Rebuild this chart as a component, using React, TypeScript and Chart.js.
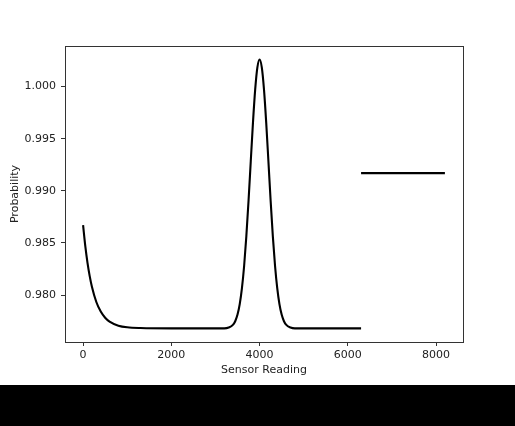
import React, { useEffect, useRef } from "react";
import { Chart, registerables } from "chart.js";

Chart.register(...registerables);

// Main probability curve (Sensor Reading vs Probability)
const curveX = [
  0, 50, 100, 150, 200, 300, 400, 500, 600, 800, 1000, 1300, 2000, 3200, 3300, 3400,
  3450, 3500, 3550, 3600, 3650, 3700, 3750, 3800, 3850, 3900, 3950, 4000, 4050, 4100,
  4150, 4200, 4250, 4300, 4350, 4400, 4450, 4500, 4550, 4600, 4700, 4800, 6300,
];
const curveY = [
  0.9867, 0.98469, 0.98309, 0.98181, 0.98079, 0.97933, 0.97841, 0.97782, 0.97745, 0.97706,
  0.9769, 0.97683, 0.9768, 0.9768, 0.97688, 0.97716, 0.97751, 0.97812, 0.97912, 0.98065,
  0.98281, 0.98565, 0.98907, 0.99284, 0.99655, 0.99971, 1.00185, 1.00261, 1.00185, 0.99971,
  0.99655, 0.99284, 0.98907, 0.98565, 0.98281, 0.98065, 0.97912, 0.97812, 0.97751, 0.97716,
  0.97688, 0.9768, 0.9768,
];

// Separate horizontal segment
const levelX = [6300, 8200];
const levelY = [0.9917, 0.9917];

const xTicks = [0, 2000, 4000, 6000, 8000];
const yTicks = [0.98, 0.985, 0.99, 0.995, 1.0];

const FONT = "'DejaVu Sans', sans-serif";

export default function App() {
  const ref = useRef<HTMLCanvasElement | null>(null);

  useEffect(() => {
    const canvas = ref.current;
    if (!canvas) return;
    const frame = {
      id: "frame",
      afterDatasetsDraw(chart: any) {
        const { ctx, chartArea } = chart;
        ctx.save();
        ctx.strokeStyle = "#333";
        ctx.lineWidth = 1;
        ctx.strokeRect(
          Math.round(chartArea.left) + 0.5,
          Math.round(chartArea.top) + 0.5,
          Math.round(chartArea.right - chartArea.left),
          Math.round(chartArea.bottom - chartArea.top)
        );
        ctx.restore();
      },
    };
    const chart = new Chart(canvas, {
      type: "line",
      data: {
        datasets: [
          {
            data: curveX.map((x, i) => ({ x, y: curveY[i] })),
            borderColor: "#000",
            borderWidth: 2.1,
            pointRadius: 0,
            cubicInterpolationMode: "monotone",
            fill: false,
          },
          {
            data: levelX.map((x, i) => ({ x, y: levelY[i] })),
            borderColor: "#000",
            borderWidth: 2.1,
            pointRadius: 0,
            fill: false,
          },
        ],
      },
      options: {
        responsive: false,
        animation: false,
        devicePixelRatio: 1,
        layout: { padding: { top: 46, right: 52, bottom: 0, left: 0 } },
        plugins: { legend: { display: false }, tooltip: { enabled: false } },
        scales: {
          x: {
            type: "linear",
            min: -410,
            max: 8610,
            afterBuildTicks: (s: any) => {
              s.ticks = xTicks.map((v) => ({ value: v }));
            },
            afterFit: (s: any) => {
              s.height = 43;
            },
            ticks: {
              callback: (v: any) => String(v),
              color: "#222",
              font: { family: FONT, size: 11 },
              padding: 3,
              maxRotation: 0,
              autoSkip: false,
            },
            grid: {
              drawOnChartArea: false,
              drawTicks: true,
              tickLength: 4,
              color: "#333",
            },
            border: { display: true, color: "#333", width: 1 },
            title: {
              display: true,
              text: "Sensor Reading",
              color: "#222",
              font: { family: FONT, size: 11 },
              padding: { top: 0, bottom: 8 },
            },
          },
          y: {
            type: "linear",
            min: 0.97549,
            max: 1.0039,
            afterBuildTicks: (s: any) => {
              s.ticks = yTicks.map((v) => ({ value: v }));
            },
            afterFit: (s: any) => {
              s.width = 65;
            },
            ticks: {
              callback: (v: any) => Number(v).toFixed(3),
              color: "#222",
              font: { family: FONT, size: 11 },
              padding: 5,
              autoSkip: false,
            },
            grid: {
              drawOnChartArea: false,
              drawTicks: true,
              tickLength: 4,
              color: "#333",
            },
            border: { display: true, color: "#333", width: 1 },
            title: {
              display: true,
              text: "Probability",
              color: "#222",
              font: { family: FONT, size: 11 },
              padding: { top: 9, bottom: 0 },
            },
          },
        },
      },
      plugins: [frame],
    } as any);
    return () => chart.destroy();
  }, []);

  return (
    <div
      style={{
        position: "fixed",
        left: 0,
        top: 0,
        width: 515,
        height: 426,
        background: "#000",
      }}
    >
      <canvas
        ref={ref}
        width={515}
        height={385}
        style={{ display: "block", width: 515, height: 385, background: "#fff" }}
      />
    </div>
  );
}
